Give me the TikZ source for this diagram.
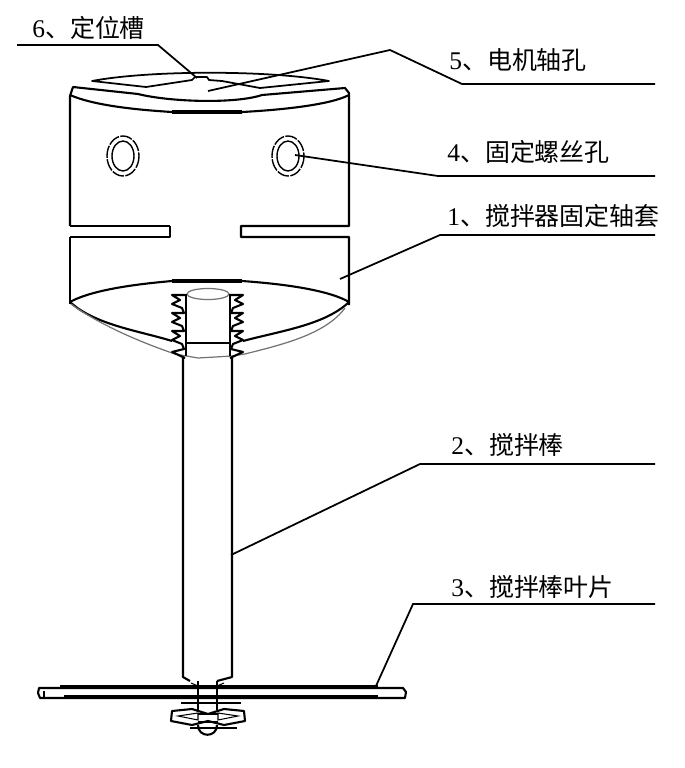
\documentclass[tikz,border=0pt]{standalone}
\usepackage{fontspec}
\setmainfont{Liberation Serif}
\newfontfamily\cjkfont{Noto Sans CJK SC}[Scale=0.98]
\usetikzlibrary{positioning,calc}

\begin{document}
\begin{tikzpicture}[x=0.02cm, y=-0.02cm,
    part label/.style={anchor=base west, inner sep=0pt, font=\fontsize{14.5pt}{16pt}\selectfont},
    leader/.style={draw, line width=1pt},
    body line/.style={draw, line width=1.2pt, line join=round},
    heavy line/.style={draw, line width=2pt},
    thin line/.style={draw, line width=0.6pt},
    gray line/.style={draw=black!55, line width=0.7pt}]
    \useasboundingbox (0,0) rectangle (685,768);

    \node[part label] (lab6) at (32,37) {6\cjkfont、定位槽};
    \node[part label] (lab5) at (449,69) {5\cjkfont、电机轴孔};
    \node[part label] (lab4) at (447,161) {4\cjkfont、固定螺丝孔};
    \node[part label] (lab1) at (447,225) {1\cjkfont、搅拌器固定轴套};
    \node[part label] (lab2) at (451,454) {2\cjkfont、搅拌棒};
    \node[part label] (lab3) at (451,596) {3\cjkfont、搅拌棒叶片};

    \coordinate (tip6) at (197,78);
    \coordinate (tip5) at (208,91);
    \coordinate (tip4) at (295,155);
    \coordinate (tip1) at (340,279);
    \coordinate (tip2) at (231,555);
    \coordinate (tip3) at (376,686);

    \draw[leader] (17,45) -- (158,45) -- (tip6);
    \draw[leader] (655,84) -- (462,84) -- (390,50) -- (tip5);
    \draw[leader] (655,176) -- (438,176) -- (tip4);
    \draw[leader] (655,235) -- (440,235) -- (tip1);
    \draw[leader] (655,464) -- (420,464) -- (tip2);
    \draw[leader] (655,604) -- (413,604) -- (tip3);

    % motor shaft hole
    \draw[body line, line width=1pt] (92,81) .. controls (150,70) and (270,70) .. (329,81)
        -- (260,88) -- (222,81) -- (209,80) -- (207,77) -- (195,77) -- (192,80) -- (146,87) -- cycle;

    % sleeve
    \draw[body line] (70,226) -- (70,96) -- (73,87) -- (138,94)
        .. controls (170,102) and (235,104) .. (262,95) -- (345,88) -- (349,93) -- (349,226) -- (241,226)
        -- (241,237) -- (349,237) -- (349,305);
    \draw[body line] (170,226) -- (70,226);
    \draw[body line] (70,237) -- (170,237) -- (170,226);
    \draw[body line] (70,237) -- (70,304);
    \draw[body line] (70,95) .. controls (95,106) and (140,110) .. (172,112) -- (242,112)
        .. controls (280,110) and (330,105) .. (349,95);
    \draw[heavy line] (172,112) -- (242,112);

    % fixing holes
    \foreach \cx in {123, 288} {
        \draw[thin line, line width=0.8pt, dash pattern=on 7pt off 0.8pt] (\cx,156) ellipse (16 and 20);
        \draw[thin line, line width=0.8pt] (\cx,156) ellipse (11 and 15);
    }

    % mouth of sleeve
    \draw[body line] (70,302) .. controls (95,288) and (150,283) .. (172,281) -- (242,281)
        .. controls (270,283) and (325,288) .. (349,302);
    \draw[heavy line] (172,281) -- (242,281);
    \draw[body line] (70,302) .. controls (95,325) and (140,331) .. (172,341);
    \draw[body line] (349,302) .. controls (325,325) and (280,331) .. (243,341);
    \draw[gray line] (71,304) .. controls (100,325) and (140,342) .. (175,354) -- (198,358) -- (232,356)
        -- (245,354) .. controls (280,345) and (325,335) .. (345,308);

    % threads
    \foreach \sx/\sg in {185/-1, 230/1} {
        \draw[body line] (\sx,295)
            \foreach \yy in {295,313,331} {
                -- (\sx+\sg*13,\yy) -- (\sx+\sg*5,\yy+5) -- (\sx+\sg*13,\yy+9) -- (\sx+\sg*3,\yy+13) -- (\sx+\sg*1,\yy+18)
            } -- (\sx+\sg*13,352) -- (\sx,358);
    }

    % stirring rod
    \draw[gray line] (208,294) ellipse (21 and 5.5);
    \draw[body line, line width=1.6pt] (186,294) -- (186,356);
    \draw[body line, line width=1.6pt] (230,294) -- (230,356);
    \draw[thin line] (186,343) -- (230,343);
    \draw[body line] (183,357) -- (183,677) -- (190,681);
    \draw[body line] (232,357) -- (232,677) -- (217,681);

    % blade
    \draw[body line] (39,688) -- (403,688) -- (406,692) -- (405,698) -- (64,698) -- (40,698) -- (38,693) -- cycle;
    \draw[heavy line] (60,687) -- (378,687);
    \draw[thin line] (44,691) -- (44,697);
    \draw[heavy line, line width=1.4pt] (64,696) -- (378,696);

    % fixing nut
    \draw[body line] (198,681) -- (198,710) (217,681) -- (217,710);
    \draw[thin line] (191,683) -- (198,686) (224,683) -- (217,686);
    \draw[body line] (181,703) -- (241,703);
    \draw[body line] (172,711) -- (192,709) -- (208,714) -- (224,709) -- (244,711) -- (245,721)
        -- (224,725) -- (208,721) -- (192,725) -- (171,721) -- cycle;
    \draw[thin line] (178,716) -- (198,713) -- (198,720) -- cycle (238,716) -- (218,713) -- (218,720) -- cycle;
    \draw[thin line] (198,714) -- (218,714) (198,722) -- (218,722);
    \draw[body line] (190,728) -- (237,728);
    \draw[body line] (198,725) .. controls (198,738) and (217,738) .. (217,725);
\end{tikzpicture}
\end{document}
